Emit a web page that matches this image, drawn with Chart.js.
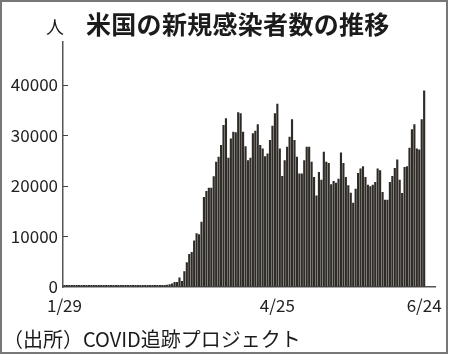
<!DOCTYPE html>
<html><head><meta charset="utf-8">
<script src="https://cdn.jsdelivr.net/npm/chart.js@4.4.1/dist/chart.umd.min.js"></script>
<style>
html,body{margin:0;padding:0;background:#fff;}
#wrap{position:relative;width:450px;height:355px;overflow:hidden;background:#fff;}
#c{position:absolute;left:0;top:0;}
#frame{position:absolute;left:0;top:0;width:448px;height:354px;border:2px solid #777;box-sizing:border-box;pointer-events:none;}
.t{position:absolute;white-space:nowrap;color:#1b1b1b;font-family:'Noto Sans CJK JP',sans-serif;line-height:1;}
#title{left:86px;top:11px;font-size:25px;font-weight:bold;letter-spacing:0.3px;}
#unit{left:46px;top:17px;font-size:18px;}
#src{left:3px;top:329px;font-size:20px;}
</style></head><body>
<div id="wrap">
<canvas id="c" width="450" height="355"></canvas>
<div class="t" id="title">米国の新規感染者数の推移</div>
<div class="t" id="unit">人</div>
<div class="t" id="src">（出所）COVID追跡プロジェクト</div>
<div id="frame"></div>
</div>
<script>
const dates = [
"1/29","1/30","1/31",
"2/1","2/2","2/3","2/4","2/5","2/6","2/7","2/8","2/9","2/10","2/11","2/12","2/13","2/14","2/15","2/16","2/17","2/18","2/19","2/20","2/21","2/22","2/23","2/24","2/25","2/26","2/27","2/28","2/29",
"3/1","3/2","3/3","3/4","3/5","3/6","3/7","3/8","3/9","3/10","3/11","3/12","3/13","3/14","3/15","3/16","3/17","3/18","3/19","3/20","3/21","3/22","3/23","3/24","3/25","3/26","3/27","3/28","3/29","3/30","3/31",
"4/1","4/2","4/3","4/4","4/5","4/6","4/7","4/8","4/9","4/10","4/11","4/12","4/13","4/14","4/15","4/16","4/17","4/18","4/19","4/20","4/21","4/22","4/23","4/24","4/25","4/26","4/27","4/28","4/29","4/30",
"5/1","5/2","5/3","5/4","5/5","5/6","5/7","5/8","5/9","5/10","5/11","5/12","5/13","5/14","5/15","5/16","5/17","5/18","5/19","5/20","5/21","5/22","5/23","5/24","5/25","5/26","5/27","5/28","5/29","5/30","5/31",
"6/1","6/2","6/3","6/4","6/5","6/6","6/7","6/8","6/9","6/10","6/11","6/12","6/13","6/14","6/15","6/16","6/17","6/18","6/19","6/20","6/21","6/22","6/23","6/24"
];
const casesJan = [1,1,1];
const casesFeb = [2,1,1,2,1,1,1,1,1,1,1,1,1,1,1,1,1,1,1,1,2,1,1,1,2,1,2,3,7];
const casesMar = [20,25,30,45,70,110,120,150,260,320,420,520,700,1000,1000,1900,1200,3100,4900,6500,6900,9200,10600,10400,12900,17760,18950,19620,19620,21870,24720];
const casesApr = [25710,28030,32010,33330,25510,29360,30680,30550,34530,34330,30680,27830,25050,25510,30350,30880,32140,28030,27370,25840,26380,29030,31870,34330,36180,27370,21930,25050,27700,29690];
const casesMay = [33130,29030,25710,22400,22400,25050,27700,27700,24720,21740,18090,22730,21210,26710,24720,24520,20280,20940,20610,21400,26570,24520,21740,20080,18620,16630,19420,22530,23390,23860,21740];
const casesJun = [20210,19880,20210,20740,23390,23060,18750,17230,17230,20740,21930,23530,25180,21210,18550,23720,23860,27500,31150,32140,27370,27170,33130,38830];
const cases = [].concat(casesJan, casesFeb, casesMar, casesApr, casesMay, casesJun);
const xTickLabels = ["1/29","4/25","6/24"];
const yTickValues = [0,10000,20000,30000,40000];

const points = cases.map((v,i)=>({x:i,y:v}));
const xTickIdx = xTickLabels.map(l=>dates.indexOf(l));
const numFont = "'Noto Sans CJK JP',sans-serif";

const inwardTicks = {
  id:'inwardTicks',
  afterDraw(chart){
    const y = chart.scales.y, ctx = chart.ctx;
    ctx.save();
    ctx.strokeStyle = '#444'; ctx.lineWidth = 1;
    y.ticks.forEach(t=>{
      if (t.value === 0) return;
      const p = Math.round(y.getPixelForValue(t.value)) + 0.5;
      ctx.beginPath(); ctx.moveTo(y.right, p); ctx.lineTo(y.right + 5, p); ctx.stroke();
    });
    ctx.restore();
  }
};

new Chart(document.getElementById('c'), {
  type:'bar',
  data:{datasets:[{data:points, backgroundColor:'#2f2b27', borderWidth:0,
    barPercentage:1, categoryPercentage:0.88, minBarLength:2}]},
  options:{
    responsive:false, animation:false,
    layout:{padding:{top:42,right:12,left:0,bottom:0}},
    plugins:{legend:{display:false}, tooltip:{enabled:false}},
    scales:{
      x:{type:'linear', min:-0.6, max:151.5, offset:false,
        grid:{display:true, drawOnChartArea:false, drawTicks:false, offset:false},
        border:{display:true, color:'#555', width:1.5},
        afterBuildTicks:s=>{ s.ticks = xTickIdx.map(v=>({value:v})); },
        ticks:{autoSkip:false, maxRotation:0, padding:8, color:'#222',
          font:{family:numFont, size:17}, callback:v=>dates[v]},
        afterFit:s=>{ s.height = 68; }
      },
      y:{min:0, max:48400,
        grid:{display:true, drawOnChartArea:false, drawTicks:false},
        border:{display:true, color:'#555', width:1.5},
        afterBuildTicks:s=>{ s.ticks = yTickValues.map(v=>({value:v})); },
        ticks:{padding:5, color:'#222', font:{family:numFont, size:17}, callback:v=>String(v)},
        afterFit:s=>{ s.width = 63; }
      }
    }
  },
  plugins:[inwardTicks]
});
</script>
</body></html>
